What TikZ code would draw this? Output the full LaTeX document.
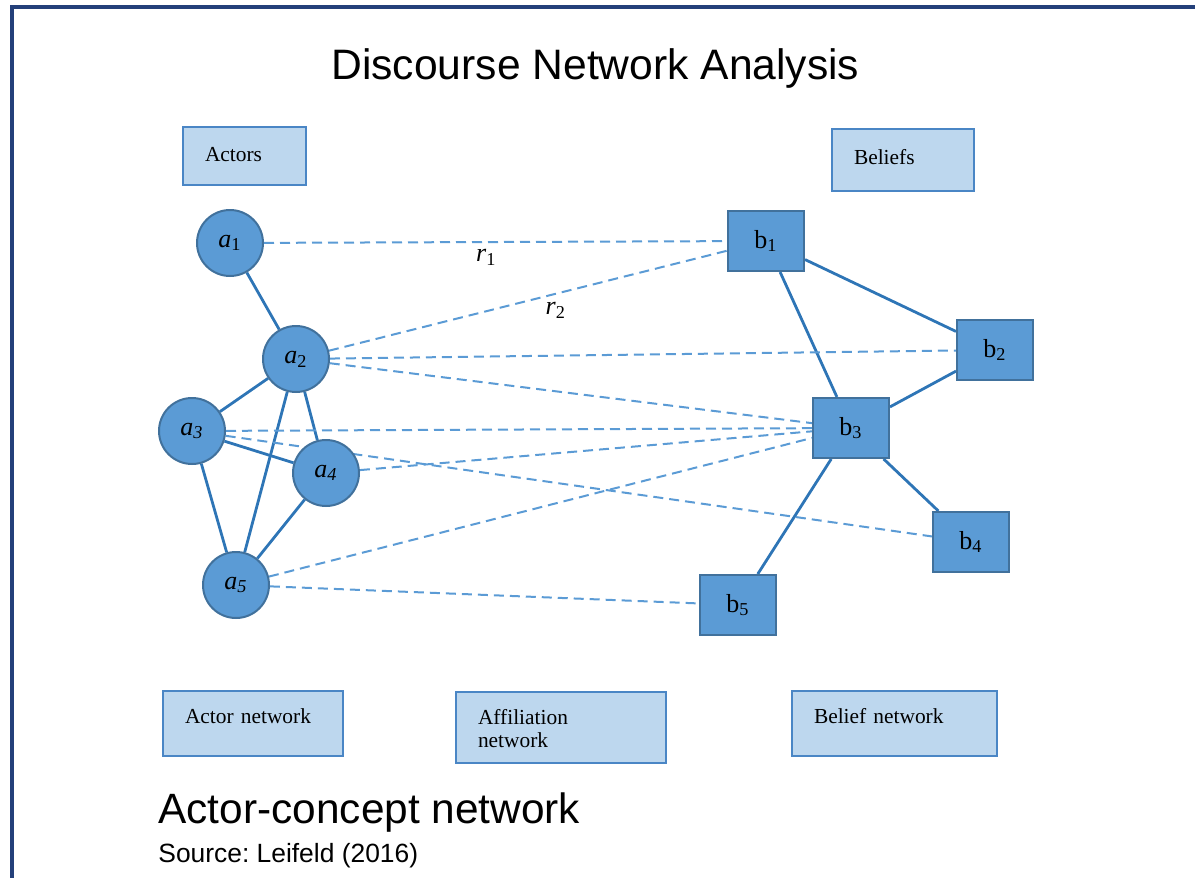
\documentclass[tikz,border=0pt]{standalone}
\usepackage{fontspec}
\setmainfont{Liberation Serif}
\newfontfamily\arialfont{Liberation Sans}
\usetikzlibrary{backgrounds}
\usepackage{xcolor}
\frenchspacing

\definecolor{framecol}{RGB}{36,64,122}
\definecolor{nodefill}{RGB}{91,155,213}
\definecolor{nodeline}{RGB}{65,113,156}
\definecolor{boxfill}{RGB}{189,215,238}
\definecolor{boxline}{RGB}{74,134,197}
\definecolor{tieline}{RGB}{46,117,182}
\definecolor{affline}{RGB}{91,155,213}

\begin{document}
\begin{tikzpicture}[x = 0.5pt, y = -0.5pt, inner sep = 0pt]
			\tikzstyle{actor} = [circle, draw=nodeline, line width=1pt, fill=nodefill, minimum size=33pt, font=\fontsize{13}{15}\selectfont]
			\tikzstyle{belief} = [rectangle, draw=nodeline, line width=1pt, fill=nodefill, minimum width=38pt, minimum height=30pt, font=\fontsize{13}{15}\selectfont]
			\tikzstyle{infobox} = [rectangle, draw=boxline, line width=1pt, fill=boxfill, anchor=north west, align=left, inner xsep=11pt, inner ysep=0pt, font=\fontsize{10.7}{11.5}\selectfont]
			\tikzstyle{tie} = [draw=tieline, line width=1.4pt]
			\tikzstyle{affiliation} = [draw=affline, line width=1pt, dash pattern=on 5pt off 3pt]

			\useasboundingbox (0, 0) rectangle (1195, 878);
			\draw[framecol, line width=2pt] (12, 878) -- (12, 7) -- (1195, 7);

			% headings
			\node[anchor=base west, font=\arialfont\fontsize{21.3}{25}\selectfont]	at (331, 79)	(title)		{Discourse Network Analysis};
			\node[anchor=base west, font=\arialfont\fontsize{21.2}{25}\selectfont]	at (158, 823)	(caption)	{Actor-concept network};
			\node[anchor=base west, font=\arialfont\fontsize{13.2}{16}\selectfont]	at (158, 862)	(source)	{Source: Leifeld (2016)};

			\node[infobox, text width=39.5pt, text height=17pt, text depth=12pt]	at (182, 126)	(actors)	{Actors};
			\node[infobox, text width=49pt, text height=17.5pt, text depth=13.5pt]	at (831, 128)	(beliefs)	{Beliefs};
			\node[infobox, text width=68pt, text height=16pt, text depth=16.5pt]	at (162, 690)	(actnet)	{Actor network};
			\node[infobox, text width=83pt, text height=16pt, text depth=19.5pt]	at (455, 691)	(affnet)	{Affiliation\\network};
			\node[infobox, xshift=-0.5pt, text width=80.5pt, text height=16pt, text depth=16.5pt]	at (792, 690)	(belnet)	{Belief network};

			% actors
			\node[actor]	at (230, 243)	(a1)	{\textit{a}\textsubscript{1}};
			\node[actor]	at (296, 359)	(a2)	{\textit{a}\textsubscript{2}};
			\node[actor]	at (192, 431)	(a3)	{\textit{a\textsubscript{3}}};
			\node[actor]	at (326, 473)	(a4)	{\textit{a\textsubscript{4}}};
			\node[actor]	at (236, 585)	(a5)	{\textit{a\textsubscript{5}}};

			% beliefs
			\node[belief]	at (766, 241)	(b1)	{b\textsubscript{1}};
			\node[belief]	at (995, 350)	(b2)	{b\textsubscript{2}};
			\node[belief]	at (851, 428)	(b3)	{b\textsubscript{3}};
			\node[belief]	at (971, 542)	(b4)	{b\textsubscript{4}};
			\node[belief]	at (738, 605)	(b5)	{b\textsubscript{5}};

			\begin{scope}[on background layer]
			\path[tie]
			(a1)	edge	(a2)
			(a2)	edge	(a3)
			(a2)	edge	(a4)
			(a2)	edge	(a5)
			(a3)	edge	(a4)
			(a3)	edge	(a5)
			(a4)	edge	(a5)
			(b1)	edge	(b2)
			(b1)	edge	(b3)
			(b2)	edge	(b3)
			(b3)	edge	(b4)
			(b3)	edge	(b5);

			\path[affiliation]
			(a1)	edge	node	[pos=0.48, below=3pt, font=\fontsize{13}{15}\selectfont]	{\textit{r}\textsubscript{1}}	(b1)
			(a2)	edge	node	[pos=0.57, below=4pt, font=\fontsize{13}{15}\selectfont]	{\textit{r}\textsubscript{2}}	(b1)
			(a2)	edge	(b2)
			(a2)	edge	(b3)
			(a3)	edge	(b3)
			(a3)	edge	(b4)
			(a4)	edge	(b3)
			(a5)	edge	(b3)
			(a5)	edge	(b5);
			\end{scope}
		\end{tikzpicture}
\end{document}
